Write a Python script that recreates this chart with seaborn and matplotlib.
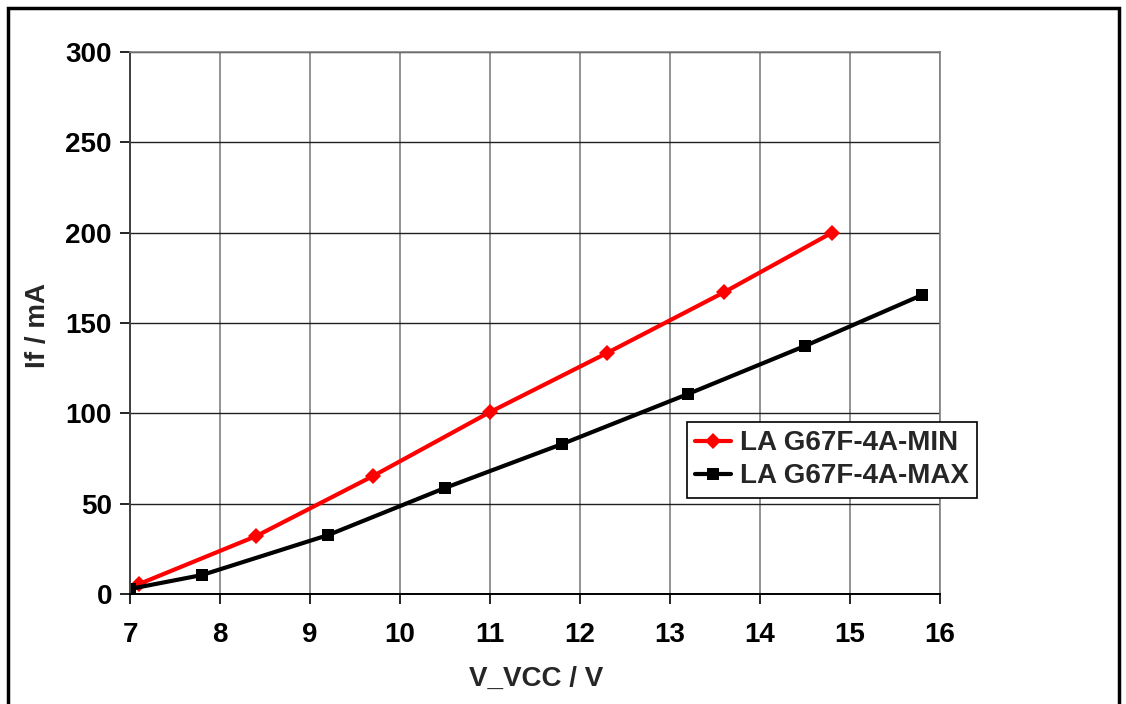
import matplotlib
matplotlib.use("Agg")
import matplotlib.pyplot as plt
import seaborn as sns
import pandas as pd
from matplotlib.patches import Rectangle

# Data
min_v = [7.1, 8.4, 9.7, 11.0, 12.3, 13.6, 14.8]
min_if = [5.5, 32, 65.3, 100.7, 133.4, 167, 200]
max_v = [7.0, 7.8, 9.2, 10.5, 11.8, 13.2, 14.5, 15.8]
max_if = [2.8, 10.5, 32.6, 58.7, 83, 110.7, 137.3, 165.5]
series_names = ["LA G67F-4A-MIN", "LA G67F-4A-MAX"]
x_ticks = [7, 8, 9, 10, 11, 12, 13, 14, 15, 16]
y_ticks = [0, 50, 100, 150, 200, 250, 300]

df = pd.concat([
    pd.DataFrame({"V": min_v, "If": min_if, "series": series_names[0]}),
    pd.DataFrame({"V": max_v, "If": max_if, "series": series_names[1]}),
])

sns.set_style("white")
plt.rcParams['font.family'] = ['Liberation Sans', 'DejaVu Sans']
plt.rcParams['font.weight'] = 'bold'

FS = 20

fig = plt.figure(figsize=(11.26, 7.04), dpi=100)
ax = fig.add_axes([130/1126, 1-594/704, 810/1126, 542/704])

sns.lineplot(data=df, x="V", y="If", hue="series", style="series",
             palette={series_names[0]: "#ff0000", series_names[1]: "#000000"},
             markers={series_names[0]: "D", series_names[1]: "s"},
             dashes=False, sort=False, estimator=None, linewidth=3.0,
             markersize=9, markeredgewidth=0, ax=ax)
for line in ax.get_lines():
    if line.get_marker() == "D":
        line.set_markersize(8)

ax.set_xlim(7, 16)
ax.set_ylim(0, 300)
ax.set_xticks(x_ticks)
ax.set_yticks(y_ticks)
ax.grid(True, axis="x", color="#808080", linewidth=1.2)
ax.grid(True, axis="y", color="#202020", linewidth=1.0)
ax.set_axisbelow(True)
for s in ["top", "right"]:
    ax.spines[s].set_color("#808080")
    ax.spines[s].set_linewidth(1.2)
ax.spines["left"].set_color("#404040")
ax.spines["bottom"].set_color("#000000")
ax.spines["left"].set_linewidth(1.4)
ax.spines["bottom"].set_linewidth(1.4)
ax.tick_params(axis="both", which="both", direction="out", length=7, width=1.2,
               labelsize=FS, colors="#000000", left=True, bottom=True)
ax.tick_params(axis="x", pad=13)
ax.tick_params(axis="y", pad=6)
for lab in ax.get_xticklabels() + ax.get_yticklabels():
    lab.set_fontweight("bold")

ax.set_xlabel("V_VCC / V", fontsize=FS, fontweight="bold")
ax.set_ylabel("If / mA", fontsize=FS, fontweight="bold")
ax.xaxis.set_label_coords((536-130)/810, -(679-594)/542)
ax.yaxis.set_label_coords(-(130-38)/810, (594-325)/542)
ax.xaxis.label.set_va("center")
ax.yaxis.label.set_va("center")

leg = ax.legend(loc="upper left", bbox_to_anchor=((687-130)/810, (594-422)/542),
                frameon=True, fancybox=False, shadow=False, fontsize=FS,
                handlelength=1.3, handletextpad=0.3, borderpad=0.3,
                labelspacing=0.25, borderaxespad=0)
leg.get_frame().set_edgecolor("#000000")
leg.get_frame().set_linewidth(1.2)
leg.get_frame().set_alpha(1)
for t in leg.get_texts():
    t.set_fontweight("bold")

fig.patches.append(Rectangle((8/1126, -0.01), 1111/1126, 1 - 8/704 + 0.01,
                             transform=fig.transFigure, fill=False,
                             edgecolor="#000000", linewidth=2.5))

fig.savefig("out.png", dpi=100)
